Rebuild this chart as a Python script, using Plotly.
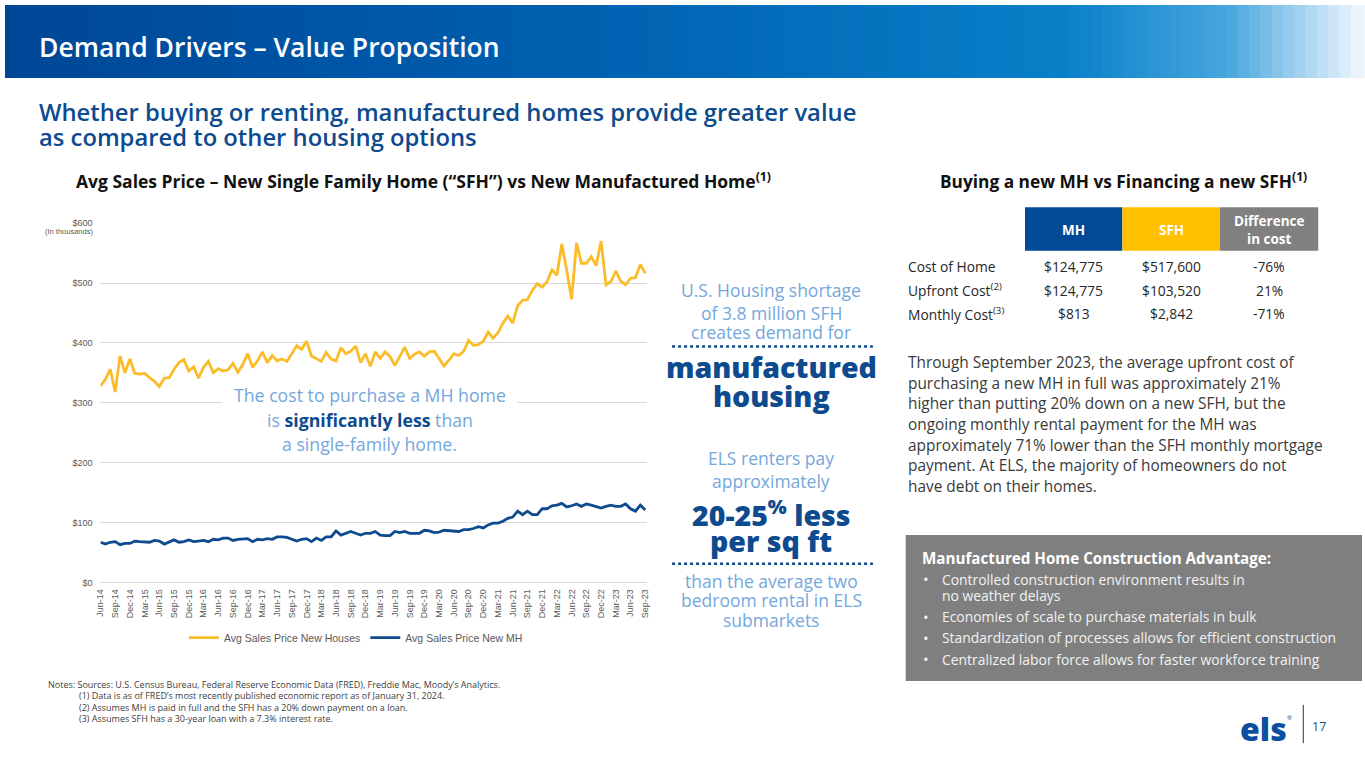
import plotly.graph_objects as go

# ---------------- data ----------------
sfh_prices = [328, 339, 356, 318, 378, 350, 373, 349, 348, 349, 342, 336, 327, 341, 342, 356,
              367, 372, 353, 360, 341, 359, 369, 350, 357, 353, 355, 366, 351, 364, 382, 359,
              370, 385, 367, 379, 370, 373, 369, 381, 395, 389, 403, 378, 374, 369, 384, 373,
              370, 392, 382, 386, 395, 367, 382, 361, 385, 374, 385, 377, 362, 378, 393, 374,
              381, 385, 378, 385, 386, 374, 361, 371, 382, 379, 386, 404, 396, 397, 403, 418,
              408, 417, 433, 445, 433, 462, 471, 472, 488, 499, 493, 502, 522, 513, 565, 521,
              473, 567, 533, 533, 544, 529, 570, 497, 502, 520, 503, 497, 508, 509, 531, 516]
mh_prices = [67, 64, 67, 68, 63, 65, 65, 69, 68, 67, 67, 70, 69, 64, 67, 71,
             67, 68, 71, 68, 69, 70, 68, 72, 71, 74, 74, 70, 72, 72, 73, 68,
             72, 71, 73, 72, 76, 76, 75, 72, 69, 72, 73, 68, 74, 70, 76, 76,
             86, 79, 82, 85, 82, 79, 82, 82, 85, 79, 78, 78, 85, 83, 85, 82,
             82, 82, 87, 86, 83, 84, 87, 86, 86, 85, 88, 88, 90, 93, 91, 96,
             99, 99, 102, 107, 109, 119, 113, 119, 113, 113, 123, 123, 128, 129, 132, 126,
             128, 131, 127, 131, 129, 127, 124, 127, 129, 127, 127, 131, 123, 119, 129, 121]
tick_labels = ["Jun-14", "Sep-14", "Dec-14",
               "Mar-15", "Jun-15", "Sep-15", "Dec-15",
               "Mar-16", "Jun-16", "Sep-16", "Dec-16",
               "Mar-17", "Jun-17", "Sep-17", "Dec-17",
               "Mar-18", "Jun-18", "Sep-18", "Dec-18",
               "Mar-19", "Jun-19", "Sep-19", "Dec-19",
               "Mar-20", "Jun-20", "Sep-20", "Dec-20",
               "Mar-21", "Jun-21", "Sep-21", "Dec-21",
               "Mar-22", "Jun-22", "Sep-22", "Dec-22",
               "Mar-23", "Jun-23", "Sep-23"]
series_names = ["Avg Sales Price New Houses", "Avg Sales Price New MH"]
y_ticks = [0, 100, 200, 300, 400, 500, 600]
y_tick_labels = ["$0", "$100", "$200", "$300", "$400", "$500", "$600"]

table_headers = ["MH", "SFH", "Difference<br>in cost"]
table_rows = ["Cost of Home", "Upfront Cost<sup>(2)</sup>", "Monthly Cost<sup>(3)</sup>"]
table_mh = ["$124,775", "$124,775", "$813"]
table_sfh = ["$517,600", "$103,520", "$2,842"]
table_diff = ["-76%", "21%", "-71%"]

# ---------------- style ----------------
W, H = 1365, 768
BODY = "'Open Sans', Lato, sans-serif"
CHART = "'Liberation Sans', Arial, sans-serif"
DARK_BLUE = "#0d4a8e"
LIGHT_BLUE = "#74a7dc"
YELLOW = "#fbbc2a"
GREY_TXT = "#595959"


def px(x):
    return x / W


def py(y):
    return 1 - y / H


annotations = []
shapes = []


def text(x, y, s, size, color, family=BODY, xanchor="left", weight=None, **kw):
    font = dict(size=size, color=color, family=family)
    if weight:
        font["weight"] = weight
    annotations.append(dict(x=px(x), y=py(y), xref="paper", yref="paper", text=s,
                            showarrow=False, xanchor=xanchor, yanchor="middle",
                            font=font, **kw))


def rect(x0, y0, x1, y1, color):
    shapes.append(dict(type="rect", xref="paper", yref="paper", x0=px(x0), x1=px(x1),
                       y0=py(y1), y1=py(y0), fillcolor=color, line=dict(width=0), layer="below"))


fig = go.Figure()
x_idx = list(range(len(sfh_prices)))
fig.add_trace(go.Scatter(x=x_idx, y=sfh_prices, mode="lines", name=series_names[0],
                         line=dict(color=YELLOW, width=2.8)))
fig.add_trace(go.Scatter(x=x_idx, y=mh_prices, mode="lines", name=series_names[1],
                         line=dict(color=DARK_BLUE, width=2.8)))

# ---------------- header gradient ----------------
stops = [(0.0, (0, 70, 150)), (0.45, (0, 98, 178)), (0.78, (8, 128, 200)),
         (0.9, (70, 165, 222)), (1.0, (240, 247, 253))]
N = 120
for i in range(N):
    t = (i + 0.5) / N
    for j in range(len(stops) - 1):
        if stops[j][0] <= t <= stops[j + 1][0]:
            a, ca = stops[j]
            b, cb = stops[j + 1]
            f = (t - a) / (b - a)
            c = tuple(int(round(ca[k] + (cb[k] - ca[k]) * f)) for k in range(3))
            break
    shapes.append(dict(type="rect", xref="paper", yref="paper", x0=i / N, x1=(i + 1) / N + 0.002,
                       y0=py(74), y1=1, fillcolor="rgb(%d,%d,%d)" % c, line=dict(width=0),
                       layer="below"))

text(32, 43, "Demand Drivers – Value Proposition", 26.5, "white", weight=600)
text(32, 108, "Whether buying or renting, manufactured homes provide greater value", 23.8, DARK_BLUE, weight=600)
text(32, 134, "as compared to other housing options", 23.8, DARK_BLUE, weight=600)

# ---------------- chart titles ----------------
text(421, 178, "Avg Sales Price – New Single Family Home (“SFH”) vs New Manufactured Home<sup>(1)</sup>",
     17.5, "#111111", xanchor="center", weight=700)
text(1125, 178, "Buying a new MH vs Financing a new SFH<sup>(1)</sup>", 17.3, "#111111",
     xanchor="center", weight=700)
text(91, 229, "(In thousands)", 7.5, GREY_TXT, family=CHART, xanchor="right")

# chart annotation
text(367, 395, "The cost to purchase a MH home", 17.7, LIGHT_BLUE, xanchor="center",
     bgcolor="white", width=292, height=22)
text(367, 420, "is <b><span style='color:%s'>significantly less</span></b> than" % DARK_BLUE, 17.7,
     LIGHT_BLUE, xanchor="center")
text(367, 445, "a single-family home.", 17.7, LIGHT_BLUE, xanchor="center")

# ---------------- middle column ----------------
cx = 771
text(cx, 289, "U.S. Housing shortage", 17.5, LIGHT_BLUE, xanchor="center")
text(cx, 312, "of 3.8 million SFH", 17.5, LIGHT_BLUE, xanchor="center")
text(cx, 331, "creates demand for", 17.5, LIGHT_BLUE, xanchor="center")
text(cx, 367, "manufactured", 28.5, DARK_BLUE, xanchor="center", weight=800)
text(cx, 396, "housing", 28.5, DARK_BLUE, xanchor="center", weight=800)
text(cx, 459, "ELS renters pay", 17.5, LIGHT_BLUE, xanchor="center")
text(cx, 482, "approximately", 17.5, LIGHT_BLUE, xanchor="center")
text(cx, 515, "20-25<sup>%</sup> less", 28.5, DARK_BLUE, xanchor="center", weight=800)
text(cx, 543, "per sq ft", 28.5, DARK_BLUE, xanchor="center", weight=800)
text(cx, 584, "than the average two", 17.5, LIGHT_BLUE, xanchor="center")
text(cx, 603, "bedroom rental in ELS", 17.5, LIGHT_BLUE, xanchor="center")
text(cx, 623, "submarkets", 17.5, LIGHT_BLUE, xanchor="center")
for yy in (346, 566):
    shapes.append(dict(type="line", xref="paper", yref="paper", x0=px(671), x1=px(873),
                       y0=py(yy), y1=py(yy), line=dict(color=DARK_BLUE, width=2.5, dash="dot")))

# ---------------- table ----------------
col_x = [(1026, 1124), (1124, 1222), (1222, 1321)]
col_colors = ["#024a96", "#ffc000", "#808080"]
for (x0, x1), c, h in zip(col_x, col_colors, table_headers):
    rect(x0, 205, x1, 249, c)
    text((x0 + x1) / 2, 228, h, 13.5, "white", xanchor="center", weight=700)
row_y = [265, 289, 313]
for yy, lab, a, b, d in zip(row_y, table_rows, table_mh, table_sfh, table_diff):
    text(906, yy, lab, 13.8, "#262626")
    for (x0, x1), v in zip(col_x, (a, b, d)):
        text((x0 + x1) / 2, yy, v, 13.8, "#262626", xanchor="center")

para = ["Through September 2023, the average upfront cost of",
        "purchasing a new MH in full was approximately 21%",
        "higher than putting 20% down on a new SFH, but the",
        "ongoing monthly rental payment for the MH was",
        "approximately 71% lower than the SFH monthly mortgage",
        "payment. At ELS, the majority of homeowners do not",
        "have debt on their homes."]
for k, line in enumerate(para):
    text(906, 362 + 21 * k, line, 15.4, "#3a3a3a")

# ---------------- grey box ----------------
rect(906, 537, 1365, 685, "#7f7f7f")
text(920, 560, "Manufactured Home Construction Advantage:", 15.2, "white", weight=700)
bullets = [(582, "Controlled construction environment results in", True),
           (598, "no weather delays", False),
           (620, "Economies of scale to purchase materials in bulk", True),
           (641, "Standardization of processes allows for efficient construction", True),
           (663, "Centralized labor force allows for faster workforce training", True)]
for yy, s, dot in bullets:
    if dot:
        text(921, yy, "•", 15, "#f2f2f2")
    text(941, yy, s, 13.9, "#f2f2f2")

# ---------------- notes ----------------
text(41, 688, "Notes: Sources: U.S. Census Bureau, Federal Reserve Economic Data (FRED), Freddie Mac, Moody’s Analytics.",
     9, "#404040")
notes = ["(1) Data is as of FRED’s most recently published economic report as of January 31, 2024.",
         "(2) Assumes MH is paid in full and the SFH has a 20% down payment on a loan.",
         "(3) Assumes SFH has a 30-year loan with a 7.3% interest rate."]
for k, s in enumerate(notes):
    text(72, 700 + 11.5 * k, s, 9, "#404040")

# ---------------- logo ----------------
text(1266, 733, "els", 32, "#0b4fa0", xanchor="center", weight=800)
text(1292, 722, "®", 6, "#0b4fa0", xanchor="center")
shapes.append(dict(type="line", xref="paper", yref="paper", x0=px(1306), x1=px(1306),
                   y0=py(709), y1=py(748), line=dict(color="#555555", width=1.2)))
text(1322, 731, "17", 12.5, DARK_BLUE, xanchor="center")

fig.update_layout(
    width=W, height=H, margin=dict(l=0, r=0, t=0, b=0),
    paper_bgcolor="white", plot_bgcolor="white",
    annotations=annotations, shapes=shapes,
    showlegend=True,
    legend=dict(orientation="h", x=px(353), xanchor="center", y=py(641), yanchor="middle",
                font=dict(size=10.5, color=GREY_TXT, family=CHART), bgcolor="rgba(0,0,0,0)",
                itemwidth=30),
    xaxis=dict(domain=[px(96), px(646)], range=[0, 111.4], tickmode="array",
               tickvals=list(range(0, len(sfh_prices), 3)), ticktext=tick_labels,
               tickangle=-90, tickfont=dict(size=9, color=GREY_TXT, family=CHART),
               showgrid=False, zeroline=False, showline=False, ticks="",
               ticklabelstandoff=4),
    yaxis=dict(domain=[py(585), py(221)], range=[0, 600], tickmode="array", tickvals=y_ticks,
               ticktext=y_tick_labels, tickfont=dict(size=9, color=GREY_TXT, family=CHART),
               showgrid=True, gridcolor="#d9d9d9", gridwidth=1, zeroline=True,
               zerolinecolor="#d9d9d9", zerolinewidth=1, showline=False, ticks="",
               ticklabelstandoff=7),
)

post = ("document.documentElement.style.margin='0';document.documentElement.style.overflow='hidden';"
        "document.body.style.margin='0';document.body.style.padding='0';document.body.style.overflow='hidden';"
        "var d=document.getElementById('{plot_id}');d.style.position='fixed';d.style.left='0px';d.style.top='0px';")
fig.write_html("out.html", config={"displayModeBar": False}, post_script=post)
